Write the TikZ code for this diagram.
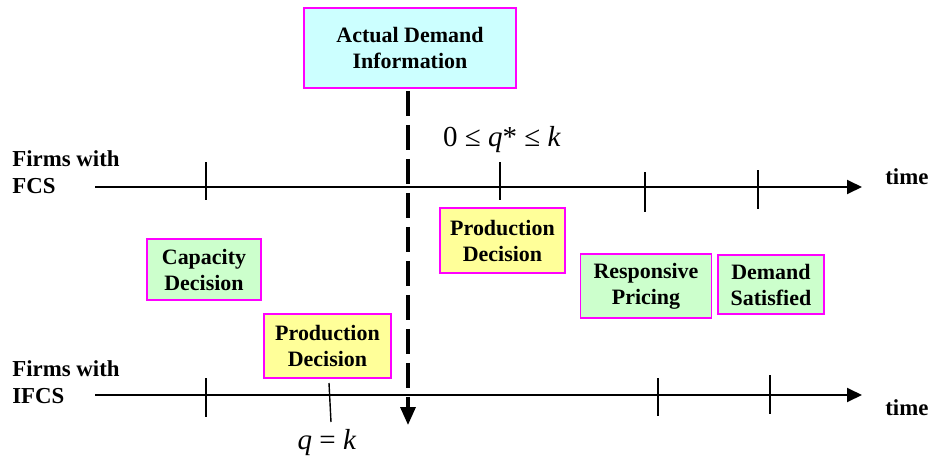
\documentclass[tikz,border=0pt]{standalone}
\usepackage{fontspec}
\setmainfont{Liberation Serif}
\usetikzlibrary{arrows.meta}
\definecolor{boxpink}{RGB}{255,0,255}
\definecolor{boxcyan}{RGB}{204,255,255}
\definecolor{boxgreen}{RGB}{204,255,204}
\definecolor{boxyellow}{RGB}{255,255,153}
\tikzset{
  eventbox/.style={draw=boxpink, line width=1.1pt, align=center, inner sep=0pt,
    font=\fontsize{12.5}{14.8}\selectfont\bfseries},
  axisline/.style={line width=1.1pt, -{Triangle[length=0.3cm, width=0.28cm]}},
  tickline/.style={line width=0.8pt},
  firmlabel/.style={anchor=west, align=left, inner sep=0pt,
    font=\fontsize{13}{15.5}\selectfont\bfseries},
  timelabel/.style={anchor=west, inner sep=0pt, font=\fontsize{13}{15}\selectfont\bfseries},
  mathlabel/.style={inner sep=0pt, font=\fontsize{16.5}{18}\selectfont}
}
\begin{document}
\begin{tikzpicture}[x=0.02cm, y=-0.02cm]
    \useasboundingbox (0,0) rectangle (931,460);
    % Draw the information box
    \node[eventbox, fill=boxcyan, minimum width=4.24cm, minimum height=1.6cm] (demand) at (410,48) {Actual Demand\\Information};
    % Draw the axes
    \coordinate (fcsstart) at (95,187);
    \coordinate (fcsend) at (862,187);
    \coordinate (ifcsstart) at (95,395);
    \coordinate (ifcsend) at (862,395);
    \draw[axisline] (fcsstart) -- (fcsend);
    \draw[axisline] (ifcsstart) -- (ifcsend);
    \node[firmlabel] (fcs) at (12,172) {Firms with\\FCS};
    \node[firmlabel] (ifcs) at (12,382) {Firms with\\IFCS};
    \node[timelabel] (timeF) at (885,177) {time};
    \node[timelabel] (timeI) at (885,408) {time};
    % Draw the ticks
    \draw[tickline] (206,162) -- (206,200);
    \draw[tickline] (500,162) -- (500,200);
    \draw[tickline] (645,172) -- (645,212);
    \draw[tickline] (758,170) -- (758,209);
    \draw[tickline] (206,378) -- (206,417);
    \draw[tickline] (329,383) -- (331,422);
    \draw[tickline] (658,378) -- (658,416);
    \draw[tickline] (770,375) -- (770,414);
    % Draw the dashed arrow
    \coordinate (infoend) at (408,425);
    \draw[line width=1.9pt, dash pattern=on 0.5cm off 0.18cm, -{Triangle[length=0.36cm, width=0.3cm]}] ([yshift=-0.04cm]demand.south -| infoend) -- (infoend);
    % Draw the quantities
    \node[mathlabel] (qstar) at (502,140) {0 ≤ \textit{q}* ≤ \textit{k}};
    \node[mathlabel] (qk) at (327,443) {\textit{q} = \textit{k}};
    % Draw the decisions
    \node[eventbox, fill=boxyellow, minimum width=2.5cm, minimum height=1.3cm] (prodF) at (502.5,240.5) {Production\\Decision};
    \node[eventbox, fill=boxgreen, minimum width=2.28cm, minimum height=1.22cm] (cap) at (204,269.5) {Capacity\\Decision};
    \node[eventbox, fill=boxyellow, minimum width=2.54cm, minimum height=1.28cm] (prodI) at (327.5,346) {Production\\Decision};
    \node[eventbox, fill=boxgreen, minimum width=2.62cm, minimum height=1.28cm] (resp) at (646,286) {Responsive\\Pricing};
    \node[eventbox, fill=boxgreen, minimum width=2.12cm, minimum height=1.18cm] (sat) at (771,284.5) {Demand\\Satisfied};
\end{tikzpicture}
\end{document}
